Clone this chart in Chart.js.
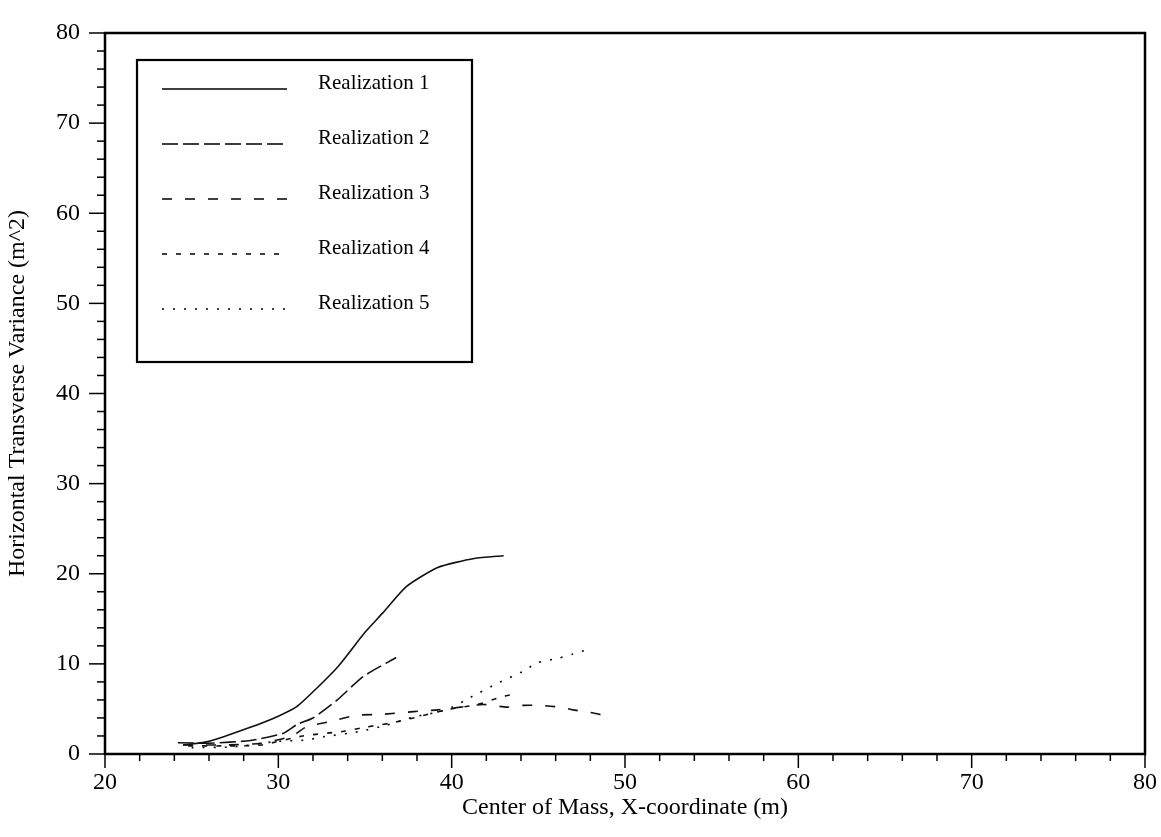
<!DOCTYPE html>
<html>
<head>
<meta charset="utf-8">
<script src="https://cdn.jsdelivr.net/npm/chart.js@4/dist/chart.umd.min.js"></script>
<style>
  html, body { margin: 0; padding: 0; background: #fff; }
  #wrap { width: 1161px; height: 837px; }
</style>
</head>
<body>
<div id="wrap"><canvas id="chart"></canvas></div>
<script>
// data
const seriesNames = ['Realization 1', 'Realization 2', 'Realization 3', 'Realization 4', 'Realization 5'];

const r1X = [24.5, 26, 28.3, 30, 31.1, 33.4, 35, 36, 37.4, 39.2, 41.3, 43];
const r1Y = [1.0, 1.4, 2.9, 4.2, 5.3, 9.6, 13.5, 15.6, 18.6, 20.7, 21.7, 22.0];

const r2X = [24.2, 26, 28.4, 30.3, 31.1, 32, 33.4, 34.9, 36.8];
const r2Y = [1.25, 1.2, 1.5, 2.3, 3.3, 4.0, 6.0, 8.6, 10.7];

const r3X = [24.5, 27, 29, 30.8, 31.6, 33, 34.5, 36, 37.8, 39.2, 40.5, 41.8, 43.2, 44.1, 45.1, 46.25, 47, 48, 49];
const r3Y = [1.0, 1.0, 1.2, 2.0, 3.0, 3.6, 4.3, 4.4, 4.7, 4.9, 5.2, 5.5, 5.2, 5.4, 5.4, 5.2, 4.9, 4.6, 4.2];

const r4X = [24.8, 27, 29, 31.4, 33.7, 35.1, 36.4, 37.8, 39.7, 41.5, 42.8, 43.5];
const r4Y = [0.9, 0.9, 1.0, 2.0, 2.5, 3.0, 3.4, 4.0, 4.9, 5.5, 6.3, 6.6];

const r5X = [25, 27.5, 29.9, 31.6, 32.6, 34.7, 36.25, 37.8, 39.7, 41.1, 42.7, 44.2, 44.9, 46.2, 47, 47.7];
const r5Y = [0.7, 0.8, 1.4, 1.55, 1.9, 2.5, 3.2, 4.1, 4.9, 6.3, 7.9, 9.25, 10.1, 10.65, 11.1, 11.5];

const xMin = 20, xMax = 80, yMin = 0, yMax = 80;
const majorStep = 10, minorStep = 2;

function pts(xs, ys) {
    return xs.map((x, i) => ({ x: x, y: ys[i] }));
}

const dashes = [[], [16, 5], [10, 13], [5, 9], [2, 9]];
const allX = [r1X, r2X, r3X, r4X, r5X];
const allY = [r1Y, r2Y, r3Y, r4Y, r5Y];

const serif = '"Liberation Serif", "DejaVu Serif", serif';

// frame, tick marks and the boxed legend
const framePlugin = {
    id: 'frame',
    afterDraw(chart) {
        const ctx = chart.ctx;
        const a = chart.chartArea;
        const xs = chart.scales.x, ys = chart.scales.y;
        ctx.save();
        ctx.strokeStyle = '#000';
        ctx.lineWidth = 2.5;
        ctx.strokeRect(a.left, a.top, a.right - a.left, a.bottom - a.top);

        ctx.lineWidth = 1.5;
        for (let v = xMin; v <= xMax; v += minorStep) {
            const p = xs.getPixelForValue(v);
            const len = v % majorStep === 0 ? 14 : 7;
            ctx.beginPath();
            ctx.moveTo(p, a.bottom);
            ctx.lineTo(p, a.bottom + len);
            ctx.stroke();
        }
        for (let v = yMin; v <= yMax; v += minorStep) {
            const p = ys.getPixelForValue(v);
            const len = v % majorStep === 0 ? 16 : 8;
            ctx.beginPath();
            ctx.moveTo(a.left, p);
            ctx.lineTo(a.left - len, p);
            ctx.stroke();
        }

        // legend box
        const bx = 137, by = 60, bw = 335, bh = 302;
        ctx.fillStyle = '#fff';
        ctx.fillRect(bx, by, bw, bh);
        ctx.lineWidth = 2.2;
        ctx.strokeRect(bx, by, bw, bh);
        ctx.font = '21px ' + serif;
        ctx.fillStyle = '#000';
        ctx.textBaseline = 'middle';
        chart.data.datasets.forEach((ds, i) => {
            const yy = by + 23 + i * 55;
            ctx.lineWidth = 1.5;
            ctx.setLineDash(ds.borderDash || []);
            ctx.beginPath();
            ctx.moveTo(162, yy + 6);
            ctx.lineTo(287, yy + 6);
            ctx.stroke();
            ctx.setLineDash([]);
            ctx.fillText(ds.label, 318, yy);
        });
        ctx.restore();
    }
};

const ctx = document.getElementById('chart').getContext('2d');
const chart = new Chart(ctx, {
    type: 'line',
    data: {
        datasets: seriesNames.map((name, i) => ({
            label: name,
            data: pts(allX[i], allY[i]),
            borderColor: '#111',
            borderWidth: 1.6,
            borderDash: dashes[i],
            pointRadius: 0,
            fill: false,
            tension: 0.2
        }))
    },
    options: {
        responsive: true,
        maintainAspectRatio: false,
        animation: false,
        layout: { padding: { top: 33, right: 16, left: 0, bottom: 0 } },
        plugins: {
            legend: { display: false },
            tooltip: { enabled: false }
        },
        scales: {
            x: {
                type: 'linear',
                min: xMin,
                max: xMax,
                grid: { display: false },
                border: { display: false },
                ticks: {
                    stepSize: minorStep,
                    autoSkip: false,
                    maxRotation: 0,
                    padding: 6,
                    color: '#000',
                    font: { family: serif, size: 24 },
                    callback: v => (v % majorStep === 0 ? v : '')
                },
                title: {
                    display: true,
                    text: 'Center of Mass, X-coordinate (m)',
                    color: '#000',
                    font: { family: serif, size: 24 },
                    padding: { top: 0, bottom: 15 }
                },
                afterFit: s => {
                    s.height = 83;
                    s.paddingLeft = 0;
                    s.paddingRight = 0;
                }
            },
            y: {
                type: 'linear',
                min: yMin,
                max: yMax,
                grid: { display: false },
                border: { display: false },
                ticks: {
                    stepSize: minorStep,
                    autoSkip: false,
                    padding: 17,
                    color: '#000',
                    font: { family: serif, size: 24 },
                    callback: v => (v % majorStep === 0 ? v : '')
                },
                title: {
                    display: true,
                    text: 'Horizontal Transverse Variance (m^2)',
                    color: '#000',
                    font: { family: serif, size: 24 },
                    padding: { top: 3, bottom: 0 }
                },
                afterFit: s => {
                    s.width = 105;
                    s.paddingTop = 0;
                    s.paddingBottom = 0;
                }
            }
        }
    },
    plugins: [framePlugin]
});
</script>
</body>
</html>
